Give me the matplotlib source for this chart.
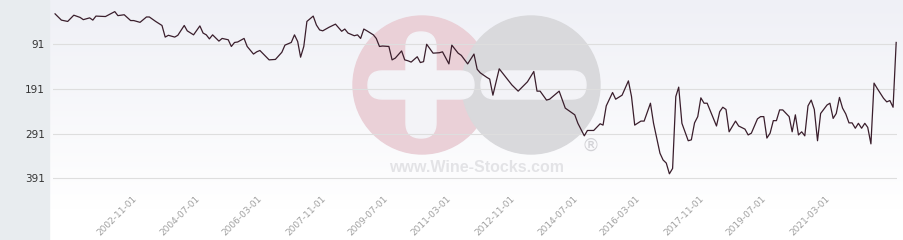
import matplotlib
matplotlib.use("Agg")
import matplotlib.pyplot as plt
import matplotlib.dates as mdates
from matplotlib.patches import Rectangle, Circle, FancyBboxPatch
import numpy as np
import pandas as pd

# monthly ranking (lower is better, axis reversed)
dates = [
    "2000-09", "2000-11", "2001-01", "2001-03", "2001-05", "2001-06", "2001-08", "2001-09",
    "2001-10", "2002-01", "2002-04", "2002-05", "2002-07", "2002-09", "2002-10", "2002-12",
    "2003-02", "2003-03", "2003-05", "2003-07", "2003-08", "2003-09", "2003-11", "2003-12",
    "2004-02", "2004-03", "2004-05", "2004-07", "2004-08", "2004-09", "2004-10", "2004-11",
    "2005-01", "2005-02", "2005-04", "2005-05", "2005-06", "2005-07", "2005-09", "2005-10",
    "2005-12", "2006-01", "2006-02", "2006-04", "2006-05", "2006-07", "2006-09", "2006-10",
    "2006-12", "2007-01", "2007-02", "2007-03", "2007-04", "2007-05", "2007-07", "2007-08",
    "2007-09", "2007-10", "2007-12", "2008-02", "2008-04", "2008-05", "2008-06", "2008-08",
    "2008-09", "2008-10", "2008-11", "2008-12", "2009-02", "2009-03", "2009-04", "2009-05",
    "2009-07", "2009-08", "2009-09", "2009-11", "2009-12", "2010-01", "2010-02", "2010-04",
    "2010-05", "2010-06", "2010-07", "2010-09", "2010-11", "2010-12", "2011-02", "2011-03",
    "2011-05", "2011-06", "2011-08", "2011-10", "2011-11", "2011-12", "2012-02", "2012-03",
    "2012-04", "2012-06", "2012-08", "2012-10", "2012-12", "2013-03", "2013-05", "2013-06",
    "2013-07", "2013-09", "2013-10", "2014-01", "2014-03", "2014-06", "2014-07", "2014-09",
    "2014-10", "2014-12", "2015-02", "2015-03", "2015-04", "2015-06", "2015-07", "2015-09",
    "2015-11", "2015-12", "2016-01", "2016-03", "2016-04", "2016-06", "2016-07", "2016-09",
    "2016-10", "2016-11", "2016-12", "2017-01", "2017-02", "2017-03", "2017-04", "2017-06",
    "2017-07", "2017-08", "2017-09", "2017-10", "2017-11", "2017-12", "2018-03", "2018-04",
    "2018-05", "2018-06", "2018-07", "2018-09", "2018-10", "2018-12", "2019-01", "2019-02",
    "2019-04", "2019-05", "2019-06", "2019-07", "2019-08", "2019-09", "2019-10", "2019-11",
    "2019-12", "2020-02", "2020-03", "2020-04", "2020-05", "2020-06", "2020-07", "2020-08",
    "2020-09", "2020-10", "2020-11", "2020-12", "2021-02", "2021-03", "2021-04", "2021-05",
    "2021-06", "2021-07", "2021-08", "2021-09", "2021-10", "2021-11", "2021-12", "2022-01",
    "2022-02", "2022-03", "2022-04", "2022-05", "2022-06", "2022-08", "2022-09", "2022-10",
    "2022-11", "2022-12",
]
ranks = [
    23, 37, 40, 26, 31, 36, 32, 37,
    28, 29, 18, 27, 25, 38, 38, 42,
    30, 30, 40, 49, 75, 71, 75, 71,
    49, 61, 70, 50, 66, 70, 79, 70,
    84, 78, 81, 96, 87, 86, 78, 96,
    113, 108, 105, 119, 126, 125, 109, 93,
    87, 70, 85, 120, 96, 40, 28, 48,
    59, 61, 53, 46, 62, 57, 66, 72,
    70, 78, 57, 61, 70, 78, 96, 95,
    96, 126, 122, 106, 126, 128, 131, 119,
    132, 130, 91, 111, 110, 108, 135, 93,
    111, 116, 135, 113, 147, 155, 165, 169,
    205, 146, 164, 182, 196, 175, 152, 196,
    196, 216, 214, 196, 234, 249, 268, 296,
    284, 284, 269, 272, 229, 199, 214, 205,
    173, 208, 272, 263, 263, 223, 268, 335,
    350, 357, 381, 369, 208, 187, 268, 307,
    305, 267, 253, 211, 223, 223, 274, 242,
    232, 237, 287, 263, 274, 281, 294, 290,
    258, 253, 253, 301, 290, 262, 262, 238,
    238, 253, 287, 249, 294, 287, 296, 229,
    216, 237, 307, 246, 227, 223, 257, 246,
    210, 234, 247, 267, 267, 279, 268, 279,
    268, 277, 314, 178, 190, 212, 220, 217,
    232, 87,
]

tick_dates = ["2002-11-01", "2004-07-01", "2006-03-01", "2007-11-01", "2009-07-01", "2011-03-01",
              "2012-11-01", "2014-07-01", "2016-03-01", "2017-11-01", "2019-07-01", "2021-03-01"]
y_ticks = [91, 191, 291, 391]

W, H = 904, 240
fig = plt.figure(figsize=(W / 100, H / 100), dpi=100)

# background layer in pixel coordinates
bg = fig.add_axes([0, 0, 1, 1])
bg.set_xlim(0, W)
bg.set_ylim(H, 0)
bg.axis("off")
grad = np.linspace(0, 1, 256).reshape(-1, 1)
top = np.array([239, 240, 246]) / 255
bot = np.array([255, 255, 255]) / 255
img = top + (bot - top) * np.clip(grad * 1.15, 0, 1)[:, :, None]
bg.imshow(img.reshape(256, 1, 3), extent=(49, W, H, 0), aspect="auto", zorder=0)
bg.add_patch(Rectangle((0, 0), 49, H, color="#e8ecef", zorder=1))

# watermark logo
bg.add_patch(Circle((422, 85), 69, color="#ead0d7", zorder=2))
bg.add_patch(Circle((531, 85), 69, color="#d9d9dc", zorder=3))
wm_bar = "#f3f3f7"
bg.add_patch(FancyBboxPatch((368, 71), 106, 28, boxstyle="round,pad=0,rounding_size=14",
                            color=wm_bar, zorder=4))
bg.add_patch(FancyBboxPatch((406, 32), 30, 106, boxstyle="round,pad=0,rounding_size=15",
                            color=wm_bar, zorder=4))
bg.add_patch(FancyBboxPatch((481, 71), 105, 28, boxstyle="round,pad=0,rounding_size=14",
                            color=wm_bar, zorder=4))
bg.text(477, 167, "www.Wine-Stocks.com", fontsize=11.5, fontweight="bold", color="#e3e3e6",
        ha="center", va="center", family="Liberation Sans", zorder=5)
bg.text(591, 146, "®", fontsize=13, color="#d2d2d6", ha="center", va="center", zorder=5)

# main chart
ax = fig.add_axes([53.3 / W, 57.7 / H, 843.4 / W, 182.3 / H])
ax.patch.set_alpha(0)
x = pd.to_datetime(dates, format="%Y-%m")
ax.plot(x, ranks, color="#3a1e2c", lw=0.9, zorder=3)

ax.set_xlim(pd.Timestamp("2000-08-15"), pd.Timestamp("2022-12-06"))
ax.set_ylim(400, -8)
ax.set_yticks(y_ticks)
ax.set_yticklabels([str(v) for v in y_ticks], fontsize=7.5, color="#333333")
tick_x = mdates.date2num(pd.to_datetime(tick_dates))
ax.set_xticks(tick_x)
ax.set_xticklabels([])
# rotated date labels, anchored at their tick like the original
for d, tx in zip(tick_dates, tick_x):
    ax.annotate(d, xy=(tx, 0), xycoords=ax.get_xaxis_transform(),
                xytext=(-5, -12), textcoords="offset pixels", fontsize=6.5, color="#a0a0a0",
                rotation=45, ha="right", va="top", rotation_mode="anchor", annotation_clip=False)
ax.tick_params(axis="both", length=0)
ax.tick_params(axis="y", pad=6)
ax.grid(axis="y", color="#dedede", lw=0.8)
ax.set_axisbelow(True)
for s in ax.spines.values():
    s.set_visible(False)

fig.savefig("out.png", dpi=100)
